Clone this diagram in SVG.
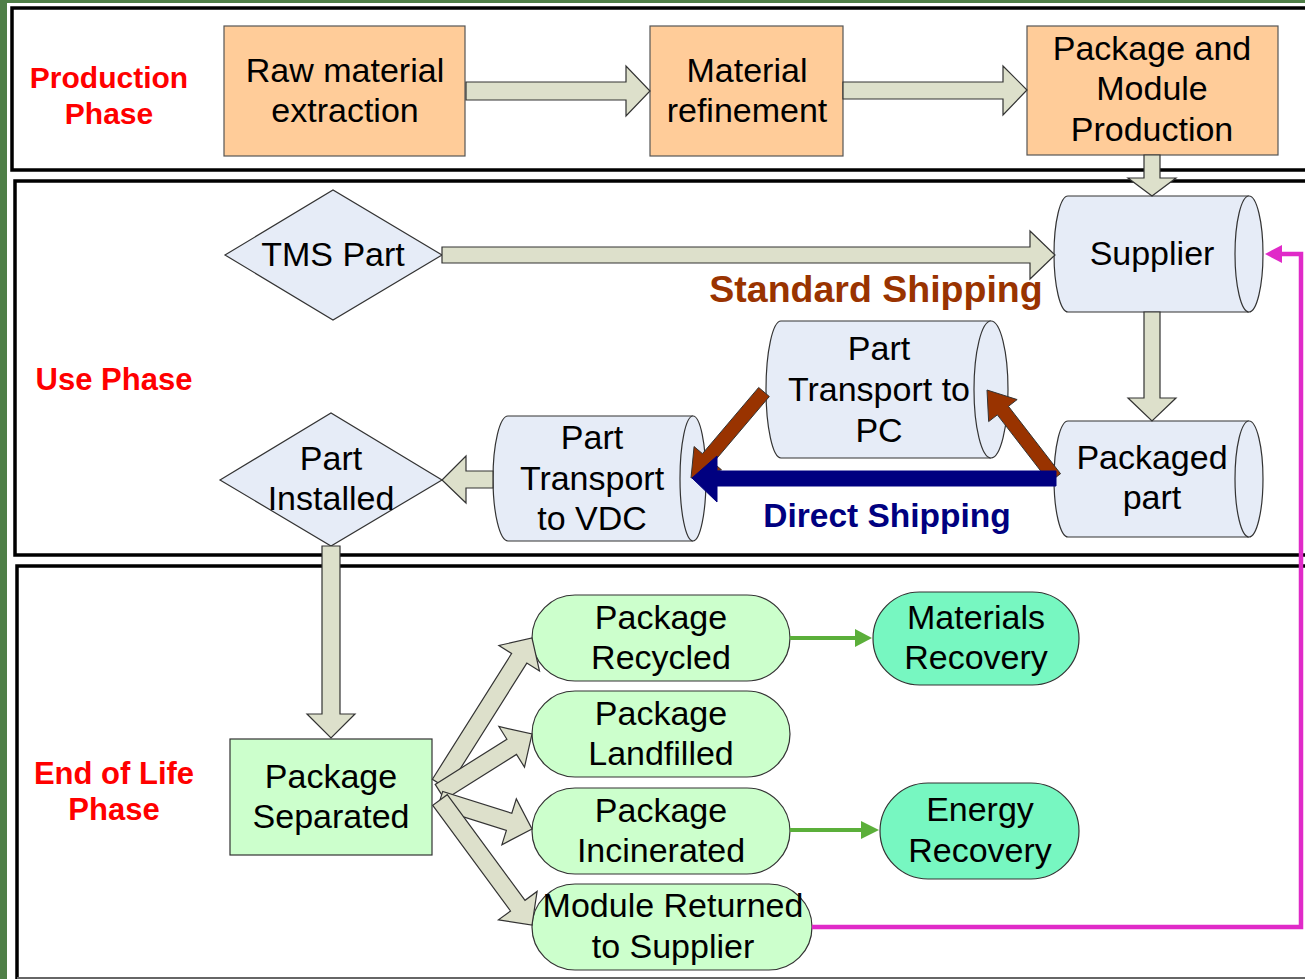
<svg xmlns="http://www.w3.org/2000/svg" width="1305" height="979" viewBox="0 0 1305 979">
<style>
text{font-family:"Liberation Sans",Arial,sans-serif;text-anchor:middle}
.t{font-size:34px;fill:#000}
.ph{font-size:30px;font-weight:bold;fill:#FF0000}
.panel{fill:#FFFFFF;stroke:#000;stroke-width:3.5}
.box{fill:#FFCC99;stroke:#555;stroke-width:1.2}
.cyl{fill:#E6ECF7;stroke:#333;stroke-width:1.2}
.dia{fill:#E6ECF7;stroke:#333;stroke-width:1.2}
.pill{fill:#CCFFCC;stroke:#333;stroke-width:1.2}
.rec{fill:#77F7C1;stroke:#333;stroke-width:1.2}
.blk{fill:#DDE0CB;stroke:#333;stroke-width:1.2}
.brn{fill:#993300;stroke:#333;stroke-width:1}
.grn{stroke:#5BAF3A;stroke-width:4;fill:none}
.grnh{fill:#5BAF3A}
.mag{stroke:#E02AC8;stroke-width:4.5;fill:none}
</style>
<rect x="0" y="0" width="1305" height="979" fill="#4F7F47"/>
<rect x="7" y="3" width="1298" height="976" fill="#FFFFFF"/>
<g id="panels">
<rect class="panel" x="12" y="8" width="1300" height="162"/>
<rect class="panel" x="15" y="181" width="1300" height="374"/>
<rect class="panel" x="17" y="566" width="1300" height="430"/>
<line x1="17" y1="978" x2="1305" y2="978" stroke="#666" stroke-width="2"/>
</g>
<g id="labels">
<text class="ph" x="109" y="88">Production</text>
<text class="ph" x="109" y="124">Phase</text>
<text class="ph" x="114" y="390" style="font-size:31px">Use Phase</text>
<text class="ph" x="114" y="784" style="font-size:31px">End of Life</text>
<text class="ph" x="114" y="820" style="font-size:31px">Phase</text>
<text x="876" y="302" style="font-size:37.5px;font-weight:bold;fill:#993300">Standard Shipping</text>
<text x="887" y="527" style="font-size:33.5px;font-weight:bold;fill:#000080">Direct Shipping</text>
</g>
<g id="nodes">
<g id="raw"><rect class="box" x="224" y="26" width="241" height="130"/><text class="t" x="345" y="82">Raw material</text><text class="t" x="345" y="122">extraction</text></g>
<g id="refine"><rect class="box" x="650" y="26" width="193" height="130"/><text class="t" x="747" y="82">Material</text><text class="t" x="747" y="122">refinement</text></g>
<g id="pkgmod"><rect class="box" x="1027" y="26" width="251" height="129"/><text class="t" x="1152" y="60">Package and</text><text class="t" x="1152" y="100">Module</text><text class="t" x="1152" y="141">Production</text></g>
<g id="tms"><polygon class="dia" points="225,255 333,190 442,255 333,320"/><text class="t" x="333" y="266">TMS Part</text></g>
<g id="supplier"><path class="cyl" d="M1068,196 L1249,196 A14,58 0 0 1 1249,312 L1068,312 A14,58 0 0 1 1068,196 Z"/><path class="cyl" d="M1249,196 A14,58 0 0 0 1249,312"/><text class="t" x="1152" y="265">Supplier</text></g>
<g id="packaged"><path class="cyl" d="M1068,421 L1249,421 A14,58 0 0 1 1249,537 L1068,537 A14,58 0 0 1 1068,421 Z"/><path class="cyl" d="M1249,421 A14,58 0 0 0 1249,537"/><text class="t" x="1152" y="469">Packaged</text><text class="t" x="1152" y="509">part</text></g>
<g id="topc"><path class="cyl" d="M781,321 L991,321 A17,68.5 0 0 1 991,458 L781,458 A15,68.5 0 0 1 781,321 Z"/><path class="cyl" d="M991,321 A17,68.5 0 0 0 991,458"/><text class="t" x="879" y="360">Part</text><text class="t" x="879" y="401">Transport to</text><text class="t" x="879" y="442">PC</text></g>
<g id="tovdc"><path class="cyl" d="M508,416 L693,416 A13,62.5 0 0 1 693,541 L508,541 A15,62.5 0 0 1 508,416 Z"/><path class="cyl" d="M693,416 A13,62.5 0 0 0 693,541"/><text class="t" x="592" y="449">Part</text><text class="t" x="592" y="490">Transport</text><text class="t" x="592" y="530">to VDC</text></g>
<g id="installed"><polygon class="dia" points="220,480 331,413 442,480 331,546"/><text class="t" x="331" y="470">Part</text><text class="t" x="331" y="510">Installed</text></g>
<g id="separated"><rect class="pill" x="230" y="739" width="202" height="116" rx="0"/><text class="t" x="331" y="788">Package</text><text class="t" x="331" y="828">Separated</text></g>
<g id="recycled"><rect class="pill" x="532" y="595" width="258" height="86" rx="43"/><text class="t" x="661" y="629">Package</text><text class="t" x="661" y="669">Recycled</text></g>
<g id="landfilled"><rect class="pill" x="532" y="691" width="258" height="86" rx="43"/><text class="t" x="661" y="725">Package</text><text class="t" x="661" y="765">Landfilled</text></g>
<g id="incinerated"><rect class="pill" x="532" y="788" width="258" height="86" rx="43"/><text class="t" x="661" y="822">Package</text><text class="t" x="661" y="862">Incinerated</text></g>
<g id="returned"><rect class="pill" x="532" y="884" width="280" height="86" rx="43"/><text class="t" x="673" y="917">Module Returned</text><text class="t" x="673" y="958">to Supplier</text></g>
<g id="materials"><rect class="rec" x="873" y="592" width="206" height="93" rx="46.5"/><text class="t" x="976" y="629">Materials</text><text class="t" x="976" y="669">Recovery</text></g>
<g id="energy"><rect class="rec" x="880" y="783" width="199" height="96" rx="48"/><text class="t" x="980" y="821">Energy</text><text class="t" x="980" y="862">Recovery</text></g>
</g>
<g id="connectors">
<polygon class="blk" points="466,82 626,82 626,66 650,91 626,116 626,100 466,100"/>
<polygon class="blk" points="843,82 1003,82 1003,66 1027,90 1003,115 1003,99 843,99"/>
<polygon class="blk" points="1144,155 1160,155 1160,178 1176,178 1152,196 1128,178 1144,178"/>
<polygon class="blk" points="442,247 1030,247 1030,231 1055,255 1030,279 1030,263 442,263"/>
<polygon class="blk" points="1144,312 1160,312 1160,398 1176,398 1152,421 1128,398 1144,398"/>
<polygon class="blk" points="493,471 466,471 466,456 442,480 466,503 466,488 493,488"/>
<polygon class="blk" points="322,546 340,546 340,714 355,714 331,738 307,714 322,714"/>
<polygon class="blk" points="447.61,788.80 526.82,663.10 539.51,671.09 532,638 498.91,645.51 511.60,653.50 432.39,779.20"/>
<polygon class="blk" points="444.80,799.61 516.50,754.41 524.50,767.10 532,734 498.90,726.50 506.90,739.19 435.20,784.39"/>
<polygon class="blk" points="437.29,808.58 506.40,830.37 501.90,844.68 532,829 516.32,798.90 511.82,813.21 442.71,791.42"/>
<polygon class="blk" points="432.75,805.33 510.52,911.00 498.44,919.89 532,925 537.10,891.45 525.02,900.34 447.25,794.67"/>
<polygon class="brn" points="758.67,387.47 702.47,453.67 694.08,446.55 691,478 721.52,469.85 713.13,462.73 769.33,396.53"/>
<polygon class="brn" points="1060.54,473.72 1008.44,406.30 1017.15,399.57 987,390 988.65,421.59 997.36,414.86 1049.46,482.28"/>
<polygon fill="#000080" stroke="#000080" stroke-width="1" points="1056,471 717,471 717,456 692,478 717,502 717,486 1056,486"/>
<line class="grn" x1="790" y1="638" x2="856" y2="638"/>
<polygon class="grnh" points="855,629 872,638 855,647"/>
<line class="grn" x1="790" y1="830" x2="862" y2="830"/>
<polygon class="grnh" points="861,821 879,830 861,839"/>
<polyline class="mag" points="812,927 1301,927 1301,254 1280,254"/>
<polygon fill="#E02AC8" points="1282,245 1265,254 1282,263"/>
</g>
</svg>
